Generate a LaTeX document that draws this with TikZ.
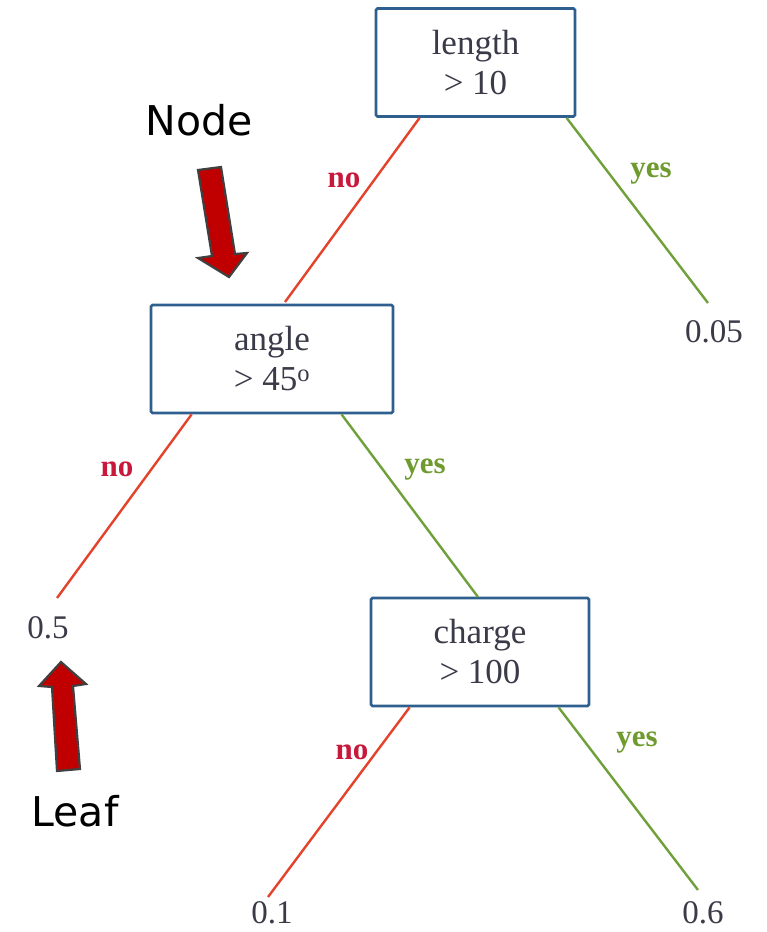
\documentclass[tikz,border=0pt]{standalone}
\usepackage{fontspec}
\setmainfont{Liberation Serif}
\newfontfamily\labfont{DejaVu Sans}
\definecolor{boxblue}{HTML}{2F5F8F}
\definecolor{treetxt}{HTML}{3A3A48}
\definecolor{nored}{HTML}{C8183C}
\definecolor{linered}{HTML}{E4432B}
\definecolor{yesgreen}{HTML}{6E9A2E}
\definecolor{linegreen}{HTML}{6FA03A}
\definecolor{arrred}{HTML}{C00000}
\definecolor{arredge}{HTML}{404040}
\begin{document}
\begin{tikzpicture}[x=1pt,y=-1pt,
  tbox/.style={draw=boxblue,line width=2.8pt,rounded corners=1.5pt,fill=white,
    minimum width=#1,minimum height=108pt,align=center,text=treetxt,
    font=\fontsize{35}{40}\selectfont,inner sep=0pt},
  leaf/.style={text=treetxt,font=\fontsize{33}{36}\selectfont,inner sep=0pt},
  nolab/.style={text=nored,font=\fontsize{31}{34}\selectfont\bfseries,inner sep=0pt},
  yeslab/.style={text=yesgreen,font=\fontsize{31}{34}\selectfont\bfseries,inner sep=0pt},
  noline/.style={draw=linered,line width=2.4pt},
  yesline/.style={draw=linegreen,line width=2.4pt},
  bigarrow/.style={fill=arrred,draw=arredge,line width=2.2pt,line join=miter},
  callout/.style={font=\labfont\fontsize{41}{46}\selectfont,text=black,inner sep=0pt}]
\useasboundingbox (0,0) rectangle (767,932);
% boxes
\node[tbox=199pt] (b1) at (475.5,62.5) {length\\> 10};
\node[tbox=242pt] (b2) at (272,359) {angle\\> 45\textsuperscript{o}};
\node[tbox=218pt] (b3) at (480,652) {charge\\> 100};
% leaves
\node[leaf] (l1) at (714,332) {0.05};
\node[leaf] (l2) at (48,628) {0.5};
\node[leaf] (l3) at (272,913) {0.1};
\node[leaf] (l4) at (703,913) {0.6};
% line endpoints
\coordinate (e1) at (285,302);
\coordinate (e2) at (708,303);
\coordinate (e3) at (57,598);
\coordinate (e4) at (478,597);
\coordinate (e5) at (268,897);
\coordinate (e6) at (698,890);
% connectors
\draw[noline] (b1.south west) ++(45,0) -- (e1);
\draw[yesline] (b1.south west) ++(192,0) -- (e2);
\draw[noline] (b2.south west) ++(42,0) -- (e3);
\draw[yesline] (b2.south west) ++(192,0) -- (e4);
\draw[noline] (b3.south west) ++(40,0) -- (e5);
\draw[yesline] (b3.south west) ++(189,0) -- (e6);
% branch labels
\node[nolab] (n1) at (344,180) {no};
\node[yeslab] (y1) at (651,174) {yes};
\node[nolab] (n2) at (117,469) {no};
\node[yeslab] (y2) at (425,470) {yes};
\node[nolab] (n3) at (352,752) {no};
\node[yeslab] (y3) at (637,743) {yes};
% callouts
\node[callout] (tnode) at (199,120) {Node};
\node[callout] (tleaf) at (75,811) {Leaf};
\draw[bigarrow] (198,170) -- (221,167) -- (235,254) -- (247,253) -- (229,277) -- (198,258) -- (212,256) -- cycle;
\draw[bigarrow] (57,771) -- (80,769) -- (73,686) -- (86,684) -- (61,662) -- (39,686) -- (52,687) -- cycle;
\end{tikzpicture}
\end{document}
